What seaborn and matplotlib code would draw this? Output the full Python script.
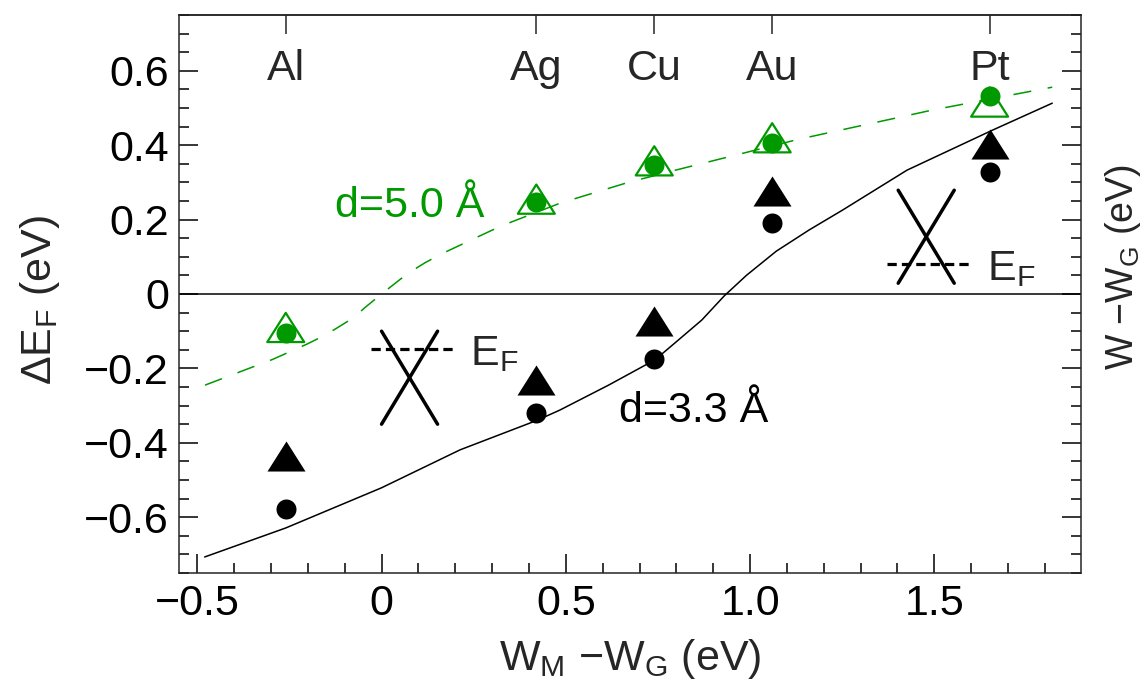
import numpy as np
import pandas as pd
import matplotlib.pyplot as plt
import seaborn as sns
from matplotlib.ticker import MultipleLocator
from matplotlib.path import Path

# metals: W_M - W_G (eV)
metals = ['Al', 'Ag', 'Cu', 'Au', 'Pt']
dW = [-0.26, 0.42, 0.74, 1.06, 1.65]

# d = 3.3 A (black)
ef_33_circle = [-0.578, -0.321, -0.175, 0.19, 0.327]
ef_33_tri = [-0.435, -0.231, -0.073, 0.277, 0.404]
# d = 5.0 A (green)
ef_50_circle = [-0.106, 0.248, 0.347, 0.407, 0.532]
ef_50_tri = [-0.09, 0.255, 0.358, 0.42, 0.516]

# model curves
curve_33_x = [-0.48, -0.26, 0.0, 0.213, 0.421, 0.484, 0.616, 0.742, 0.798, 0.869,
              0.93, 0.99, 1.071, 1.16, 1.25, 1.426, 1.659, 1.82]
curve_33_y = [-0.707, -0.629, -0.521, -0.419, -0.34, -0.312, -0.245, -0.177, -0.13, -0.07,
              -0.005, 0.05, 0.115, 0.172, 0.225, 0.333, 0.441, 0.513]
curve_50_x = [-0.479, -0.389, -0.296, -0.203, -0.158, -0.122, -0.078, -0.042, 0.0, 0.072,
              0.118, 0.163, 0.204, 0.29, 0.33, 0.484, 0.666, 0.798, 1.132, 1.497, 1.82]
curve_50_y = [-0.245, -0.211, -0.176, -0.135, -0.113, -0.092, -0.065, -0.034, 0.0, 0.056,
              0.084, 0.108, 0.127, 0.167, 0.185, 0.244, 0.299, 0.333, 0.416, 0.495, 0.556]

sns.set_theme(style='ticks')
plt.rcParams['font.family'] = ['Liberation Sans', 'DejaVu Sans']
plt.rcParams['mathtext.fontset'] = 'custom'
plt.rcParams['mathtext.rm'] = 'Liberation Sans'
plt.rcParams['mathtext.it'] = 'Liberation Sans:italic'
plt.rcParams['axes.linewidth'] = 1.1

green = '#009900'
fs = 31

pts = pd.DataFrame({'dW': dW, 'c33': ef_33_circle, 't33': ef_33_tri,
                    'c50': ef_50_circle, 't50': ef_50_tri})
# wide triangle, closed so the open version gets all three sides
tri = Path([(-1, -0.79), (1, -0.79), (0, 0.79), (-1, -0.79)],
           [Path.MOVETO, Path.LINETO, Path.LINETO, Path.CLOSEPOLY])

fig = plt.figure(figsize=(11.45, 6.89), dpi=100)
ax = fig.add_axes([0.1559, 0.1684, 0.7882, 0.8098])

ax.axhline(0, color='black', lw=1.1, zorder=1)

lw_c = 1.1
sns.lineplot(x=curve_33_x, y=curve_33_y, sort=False, estimator=None, color='black', lw=lw_c, ax=ax)
sns.lineplot(x=curve_50_x, y=curve_50_y, sort=False, estimator=None, color=green, lw=lw_c, ax=ax)
ax.lines[-1].set_dashes((13 / lw_c, 12 / lw_c))

# black: d = 3.3
sns.scatterplot(data=pts, x='dW', y='t33', marker=tri, s=27.4 ** 2, color='black', linewidth=0, ax=ax, zorder=3)
sns.scatterplot(data=pts, x='dW', y='c33', marker='o', s=14.4 ** 2, color='black', linewidth=0, ax=ax, zorder=3)
# green: d = 5.0
ax.scatter(pts['dW'], pts['t50'], marker=tri, s=26.6 ** 2, facecolors='none', edgecolors=green,
           linewidths=1.6, zorder=3)
sns.scatterplot(data=pts, x='dW', y='c50', marker='o', s=14.4 ** 2, color=green, linewidth=0, ax=ax, zorder=4)

# metal labels
for m, xv in zip(metals, dW):
    ax.text(xv, 0.575, m, ha='center', va='baseline', fontsize=fs)

ax.text(-0.126, 0.208, 'd=5.0 Å', color=green, fontsize=fs, va='baseline')
ax.text(0.643, -0.343, 'd=3.3 Å', color='black', fontsize=fs, va='baseline')

# Dirac cone sketches with E_F
for x0, y0, yd, ex, ey in [(0.0, -0.35, -0.149, 0.24, -0.191), (1.402, 0.029, 0.08, 1.642, 0.038)]:
    ax.plot([x0, x0 + 0.152], [y0 + 0.25, y0], color='black', lw=2.5, solid_capstyle='round')
    ax.plot([x0, x0 + 0.152], [y0, y0 + 0.25], color='black', lw=2.5, solid_capstyle='round')
    ax.plot([x0 - 0.03, x0 + 0.197], [yd, yd], color='black', lw=2.3, dashes=(2.9, 1.6))
    ax.text(ex, ey, r'E$_\mathregular{F}$', fontsize=fs, va='baseline')

ax.set_xlim(-0.551, 1.898)
ax.set_ylim(-0.75, 0.75)
ax.xaxis.set_major_locator(MultipleLocator(0.5))
ax.xaxis.set_minor_locator(MultipleLocator(0.1))
ax.yaxis.set_major_locator(MultipleLocator(0.2))
ax.yaxis.set_minor_locator(MultipleLocator(0.05))
ax.set_xticks([-0.5, 0, 0.5, 1.0, 1.5], ['−0.5', '0', '0.5', '1.0', '1.5'])
ax.set_yticks([-0.6, -0.4, -0.2, 0, 0.2, 0.4, 0.6], ['−0.6', '−0.4', '−0.2', '0', '0.2', '0.4', '0.6'])
ax.tick_params(which='both', direction='in', bottom=True, left=True, right=True, top=False,
               labelright=False, width=1.1, colors='black', labelsize=fs)
ax.tick_params(which='major', length=13.5)
ax.tick_params(which='minor', length=7.3)
ax.tick_params(axis='x', pad=8)
ax.tick_params(axis='y', pad=7)

top = ax.secondary_xaxis('top')
top.set_xticks(dW, [''] * len(dW))
top.tick_params(direction='in', length=13.5, width=1.1)
top.xaxis.set_minor_locator(plt.NullLocator())

ax.set_xlabel(r'W$_\mathregular{M}$ −W$_\mathregular{G}$ (eV)', fontsize=fs)
ax.xaxis.set_label_coords(0.5, -0.115)
ax.set_ylabel(r'ΔE$_\mathregular{F}$ (eV)', fontsize=fs)
ax.yaxis.set_label_coords(-0.129, 0.489)
fig.text(1103 / 1145, 1 - 267 / 689, r'W −W$_\mathregular{G}$ (eV)', fontsize=27, rotation=90,
         ha='left', va='center')

fig.savefig('out.png', dpi=100)
